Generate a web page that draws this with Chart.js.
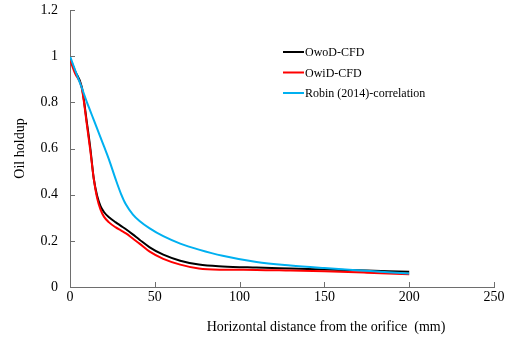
<!DOCTYPE html>
<html>
<head>
<meta charset="utf-8">
<script src="https://cdn.jsdelivr.net/npm/chart.js@4/dist/chart.umd.min.js"></script>
<style>
  html, body { margin: 0; padding: 0; background: #fff; }
  #wrap { width: 505px; height: 343px; }
</style>
</head>
<body>
<div id="wrap"><canvas id="chart" width="505" height="343"></canvas></div>
<script>
'use strict';

// horizontal distance from the orifice (mm)
const distance = [0, 3, 7, 10, 12, 14, 16, 18, 20, 23, 27, 30, 33, 37, 41, 47, 55, 65, 76, 90, 110, 130, 150, 175, 200];

const owodCfd = [0.99, 0.935, 0.865, 0.71, 0.60, 0.47, 0.395, 0.35, 0.325, 0.302, 0.28, 0.265, 0.25, 0.228, 0.205, 0.172, 0.14, 0.114, 0.097, 0.089, 0.084, 0.08, 0.076, 0.071, 0.066];
const owidCfd = [0.985, 0.925, 0.86, 0.70, 0.59, 0.47, 0.385, 0.335, 0.305, 0.28, 0.258, 0.245, 0.232, 0.21, 0.188, 0.153, 0.122, 0.097, 0.08, 0.075, 0.074, 0.071, 0.068, 0.062, 0.055];
const robinCorr = [1.0, 0.94, 0.862, 0.80, 0.762, 0.724, 0.686, 0.648, 0.61, 0.552, 0.465, 0.405, 0.357, 0.315, 0.286, 0.254, 0.22, 0.188, 0.162, 0.135, 0.108, 0.093, 0.082, 0.07, 0.058];

const seriesNames = ['OwoD-CFD', 'OwiD-CFD', 'Robin (2014)-correlation'];
const xTicks = [0, 50, 100, 150, 200, 250];
const yTicks = [0, 0.2, 0.4, 0.6, 0.8, 1, 1.2];

const FONT = '"Liberation Serif", "Times New Roman", serif';
const AXIS_COLOR = '#6e6e6e';

function toPoints(values) {
    return values.map((v, i) => ({ x: distance[i], y: v }));
}

function makeDataset(label, values, color, order) {
    return {
        label: label,
        data: toPoints(values),
        borderColor: color,
        backgroundColor: color,
        borderWidth: 2,
        pointRadius: 0,
        cubicInterpolationMode: 'monotone',
        fill: false,
        order: order
    };
}

const extras = {
    id: 'extras',
    afterDraw(chart) {
        const ctx = chart.ctx;
        const xs = chart.scales.x, ys = chart.scales.y;
        const area = chart.chartArea;

        // inward tick marks
        ctx.save();
        ctx.strokeStyle = AXIS_COLOR;
        ctx.lineWidth = 1;
        ctx.beginPath();
        yTicks.forEach(v => {
            const py = Math.round(ys.getPixelForValue(v)) + 0.5;
            ctx.moveTo(area.left, py);
            ctx.lineTo(area.left + 5, py);
        });
        xTicks.forEach(v => {
            const px = Math.round(xs.getPixelForValue(v)) + 0.5;
            ctx.moveTo(px, area.bottom);
            ctx.lineTo(px, area.bottom - 5);
        });
        ctx.stroke();

        // axis titles
        ctx.fillStyle = '#000';
        ctx.font = '14px ' + FONT;
        ctx.textAlign = 'center';
        ctx.textBaseline = 'middle';
        ctx.fillText('Horizontal distance from the orifice  (mm)', 326, 327);
        ctx.save();
        ctx.translate(20, (area.top + area.bottom) / 2);
        ctx.rotate(-Math.PI / 2);
        ctx.fillText('Oil holdup', 0, 0);
        ctx.restore();

        // legend
        ctx.font = '12px ' + FONT;
        ctx.textAlign = 'left';
        chart.data.datasets.forEach((ds, i) => {
            const y = 52 + i * 20.5;
            ctx.strokeStyle = ds.borderColor;
            ctx.lineWidth = 2;
            ctx.beginPath();
            ctx.moveTo(283, y);
            ctx.lineTo(304, y);
            ctx.stroke();
            ctx.fillStyle = '#000';
            ctx.fillText(ds.label, 305, y + 1);
        });
        ctx.restore();
    }
};

new Chart(document.getElementById('chart'), {
    type: 'line',
    data: {
        datasets: [
            makeDataset(seriesNames[0], owodCfd, '#000000', 3),
            makeDataset(seriesNames[1], owidCfd, '#ff0000', 2),
            makeDataset(seriesNames[2], robinCorr, '#00b0f0', 1)
        ]
    },
    options: {
        responsive: false,
        animation: false,
        layout: { padding: 0 },
        plugins: {
            legend: { display: false },
            tooltip: { enabled: false }
        },
        scales: {
            x: {
                type: 'linear',
                min: 0,
                max: 250,
                afterFit: scale => {
                    scale.height = 56;
                    scale.paddingLeft = 0;
                    scale.paddingRight = 11;
                },
                afterBuildTicks: scale => { scale.ticks = xTicks.map(v => ({ value: v })); },
                grid: { display: true, drawOnChartArea: false, drawTicks: false },
                border: { display: true, color: AXIS_COLOR, width: 1 },
                ticks: { color: '#000', padding: 2, maxRotation: 0, font: { family: FONT, size: 14 } }
            },
            y: {
                type: 'linear',
                min: 0,
                max: 1.2,
                afterFit: scale => {
                    scale.width = 70;
                    scale.paddingTop = 10;
                    scale.paddingBottom = 0;
                },
                afterBuildTicks: scale => { scale.ticks = yTicks.map(v => ({ value: v })); },
                grid: { display: true, drawOnChartArea: false, drawTicks: false },
                border: { display: true, color: AXIS_COLOR, width: 1 },
                ticks: { color: '#000', padding: 12, font: { family: FONT, size: 14 }, callback: v => String(v) }
            }
        }
    },
    plugins: [extras]
});
</script>
</body>
</html>
